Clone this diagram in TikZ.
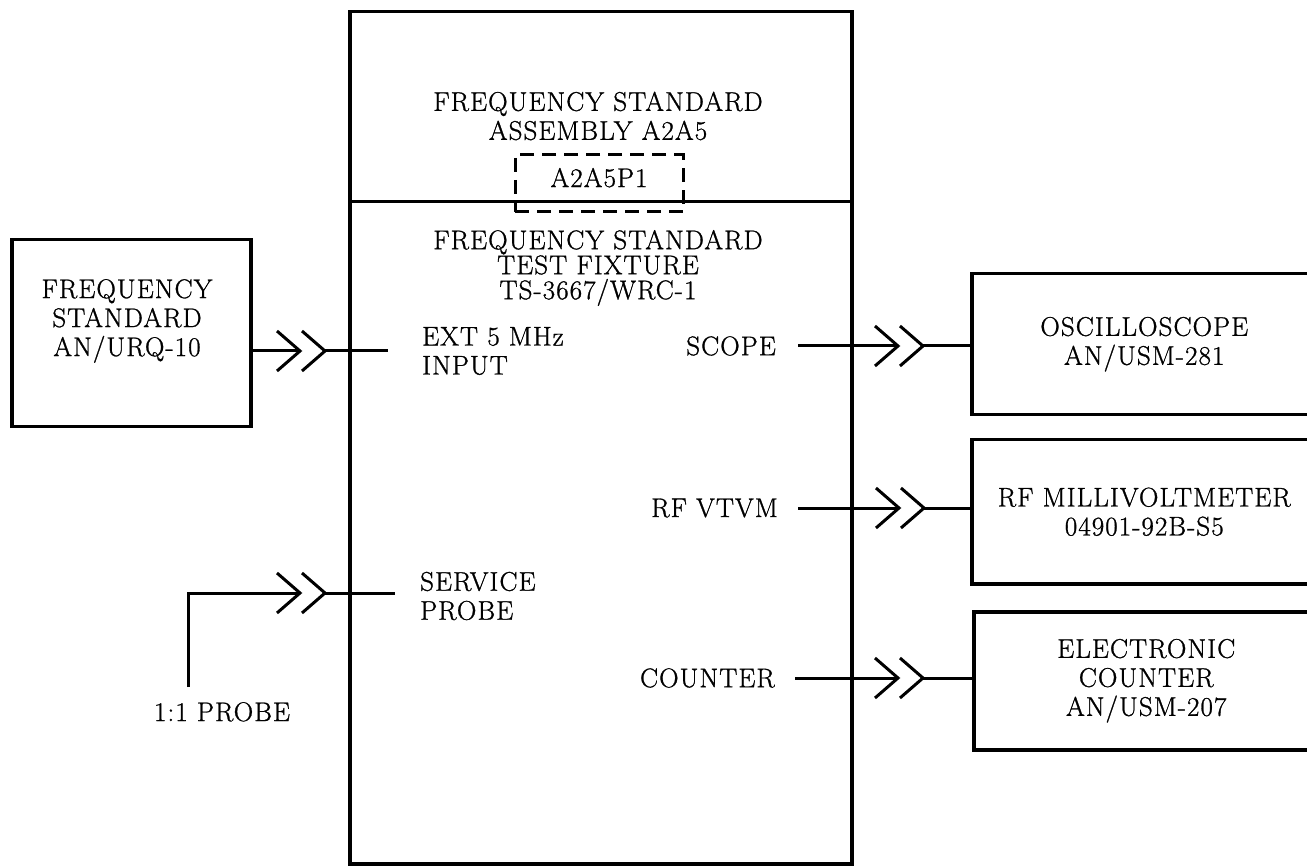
\documentclass[tikz,border=0pt]{standalone}
\usepackage{fontspec}
\setmainfont{Latin Modern Roman}[FakeBold=1, LetterSpace=4]
\usetikzlibrary{positioning}
\tikzset{
  unit/.style={draw, line width=3.5pt, align=center, inner sep=0pt},
  wire/.style={line width=3pt},
  lbl/.style={align=left, inner sep=0pt},
  jack/.pic={
    \draw[wire] (-23,-20) -- (0,0) -- (-23,20);
    \draw[wire] (2,-20) -- (25,0) -- (2,20);
    \coordinate (-in) at (0,0);
    \coordinate (-out) at (25,0);
  }
}
\begin{document}
\begin{tikzpicture}[x=1pt, y=-1pt, font=\fontsize{27}{29}\selectfont]
  \clip (0,0) rectangle (1307,866);
  % Baugruppe und Pruefadapter
  \node[unit, minimum width=502, minimum height=190, anchor=north west] (asm) at (348,10) {};
  \node[unit, minimum width=502, minimum height=662, anchor=north west] (fix) at (348,200) {};
  \node[align=center, inner sep=0pt] (asmtext) at (598,116) {FREQUENCY STANDARD\\ASSEMBLY A2A5};
  \node[align=center, inner sep=0pt, font=\fontsize{27}{25}\selectfont] (fixtext) at (598,268) {FREQUENCY STANDARD\\TEST FIXTURE\\TS-3667/WRC-1};
  \node[draw, line width=3pt, dash pattern=on 14pt off 8pt, minimum width=168, minimum height=57, text depth=12pt] (plug) at (599,183.5) {A2A5P1};

  % Geraete links und rechts
  \node[unit, minimum width=239, minimum height=187, anchor=north west] (urq) at (10,238) {};
  \node[align=center, inner sep=0pt] (urqtext) at (127,321) {FREQUENCY\\STANDARD\\AN/URQ-10};
  \node[unit, minimum width=345, minimum height=141, anchor=north west] (osc) at (970,272) {OSCILLOSCOPE\\AN/USM-281};
  \node[unit, minimum width=345, minimum height=144, anchor=north west] (rfm) at (970,438) {RF MILLIVOLTMETER\\04901-92B-S5};
  \node[unit, minimum width=345, minimum height=138, anchor=north west] (ctr) at (972,610) {ELECTRONIC\\COUNTER\\AN/USM-207};

  % Anschluesse
  \node[lbl, anchor=west] (ext) at (422,351) {EXT 5 MHz\\INPUT};
  \node[lbl, anchor=west] (svc) at (420,596) {SERVICE\\PROBE};
  \node[lbl, anchor=east] (scope) at (776,346) {SCOPE};
  \node[lbl, anchor=east] (vtvm) at (778,508) {RF VTVM};
  \node[lbl, anchor=east] (count) at (775,678) {COUNTER};

  \pic (extjack) at (300,351) {jack};
  \pic (svcjack) at (300,593) {jack};
  \pic (scopejack) at (898,346) {jack};
  \pic (vtvmjack) at (899,508) {jack};
  \pic (countjack) at (898,678) {jack};

  \draw[wire] (urq.east |- extjack-in) -- (extjack-in);
  \draw[wire] (extjack-out) -- ([xshift=-34pt]ext.west |- extjack-out);
  \coordinate (probeend) at (188,687);
  \draw[wire] (probeend) |- (svcjack-in);
  \draw[wire] (svcjack-out) -- ([xshift=-25pt]svc.west |- svcjack-out);
  \node[inner sep=0pt, anchor=north] (probe) at (222,702) {1:1 PROBE};

  \draw[wire] ([xshift=22pt]scope.east) -- (scopejack-in);
  \draw[wire] (scopejack-out) -- (osc.west |- scopejack-out);
  \draw[wire] ([xshift=20pt]vtvm.east) -- (vtvmjack-in);
  \draw[wire] (vtvmjack-out) -- (rfm.west |- vtvmjack-out);
  \draw[wire] ([xshift=20pt]count.east) -- (countjack-in);
  \draw[wire] (countjack-out) -- (ctr.west |- countjack-out);
\end{tikzpicture}
\end{document}
